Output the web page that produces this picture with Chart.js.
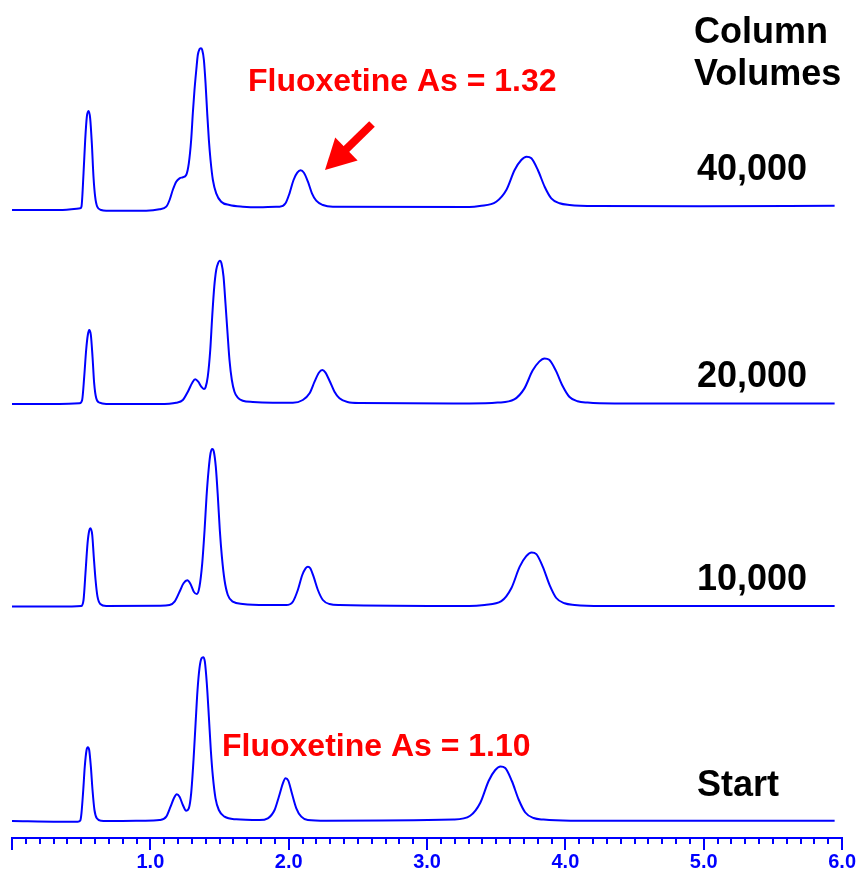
<!DOCTYPE html>
<html>
<head>
<meta charset="utf-8">
<script src="https://cdn.jsdelivr.net/npm/chart.js@4/dist/chart.umd.min.js"></script>
<style>
  body { margin: 0; background: #fff; }
</style>
</head>
<body>
<canvas id="chromChart" width="856" height="874"></canvas>
<script>
// retention time (x) and detector signal (y) for each run
const time40000 = [0, 0.343, 0.493, 0.502, 0.517, 0.529, 0.541, 0.553, 0.565, 0.577, 0.589, 0.601, 0.616, 0.645, 0.681, 0.826, 0.970, 1.066, 1.115, 1.139, 1.162, 1.187, 1.211, 1.235, 1.259, 1.278, 1.295, 1.307, 1.319, 1.332, 1.343, 1.355, 1.365, 1.375, 1.387, 1.399, 1.411, 1.423, 1.435, 1.452, 1.476, 1.512, 1.572, 1.668, 1.789, 1.910, 1.934, 1.977, 2.006, 2.035, 2.062, 2.086, 2.110, 2.139, 2.168, 2.199, 2.247, 2.319, 3.306, 3.380, 3.500, 3.573, 3.633, 3.681, 3.719, 3.754, 3.801, 3.850, 3.898, 3.958, 4.030, 4.223, 4.970, 5.946];
const signal40000 = [0, 0, 1.7, 3.3, 36.7, 70, 93.3, 99, 91.7, 66.7, 33.3, 13.3, 3.3, 0, -0.7, -0.7, -0.7, 0.7, 3.3, 10, 20, 28.3, 31.7, 32.7, 35, 46.7, 70, 96.7, 120, 140, 155, 160.7, 161.7, 160, 150, 126.7, 96.7, 70, 50, 30, 16.7, 8.3, 5, 3.3, 2.7, 3.3, 3.3, 6.7, 16.7, 30, 37.3, 39.7, 37.3, 28.3, 16.7, 9.3, 5, 3.3, 3, 4, 8.3, 20, 40, 50, 53.3, 51.7, 40, 23.3, 11.7, 6.7, 5, 4, 3.8, 4.3];

const time20000 = [0, 0.343, 0.488, 0.507, 0.522, 0.536, 0.548, 0.558, 0.570, 0.582, 0.594, 0.609, 0.633, 0.681, 1.066, 1.187, 1.235, 1.271, 1.303, 1.324, 1.346, 1.368, 1.387, 1.399, 1.415, 1.433, 1.447, 1.462, 1.476, 1.491, 1.502, 1.514, 1.529, 1.543, 1.558, 1.572, 1.589, 1.608, 1.632, 1.668, 1.741, 1.885, 2.030, 2.102, 2.151, 2.187, 2.218, 2.243, 2.266, 2.295, 2.331, 2.367, 2.425, 2.512, 3.306, 3.510, 3.630, 3.703, 3.763, 3.811, 3.849, 3.883, 3.931, 3.980, 4.028, 4.088, 4.160, 4.355, 5.946];
const signal20000 = [0, 0, 0.7, 4, 27.3, 54, 69, 74, 69, 47.3, 20.7, 5.7, 1.3, 0, 0, 1.3, 4, 12.3, 21.3, 24.7, 22.3, 17.3, 15, 16.7, 27.3, 54, 87.3, 117.3, 134, 141.3, 143.3, 140.7, 127.3, 100.7, 70.7, 44, 24, 12.3, 6.3, 3.3, 2, 1.3, 1.3, 4, 10.7, 22.3, 31.3, 34, 31.3, 23.3, 12.3, 5.7, 2, 1, 0.5, 1.4, 4.6, 15.4, 33.4, 42.4, 45.5, 44.2, 33.4, 18, 7.3, 2.8, 1.4, 0.5, 0.5];

const time10000 = [0, 0.343, 0.500, 0.517, 0.531, 0.546, 0.558, 0.567, 0.580, 0.591, 0.604, 0.618, 0.638, 0.681, 1.066, 1.139, 1.175, 1.211, 1.240, 1.267, 1.290, 1.314, 1.336, 1.355, 1.375, 1.392, 1.406, 1.421, 1.435, 1.447, 1.459, 1.473, 1.488, 1.502, 1.517, 1.536, 1.560, 1.596, 1.668, 1.838, 1.982, 2.030, 2.066, 2.098, 2.122, 2.139, 2.156, 2.180, 2.211, 2.247, 2.295, 2.367, 3.306, 3.416, 3.537, 3.609, 3.669, 3.717, 3.756, 3.790, 3.837, 3.886, 3.934, 3.994, 4.066, 4.262, 5.946];
const signal10000 = [0, 0, 0.5, 6.5, 33.2, 63.2, 75.8, 78.2, 71.5, 49.8, 26.5, 9.8, 2.5, 0.5, 0.8, 1.5, 4.8, 14.8, 23.2, 26.2, 22.5, 14.8, 12.5, 19.8, 43.2, 76.5, 109.8, 136.5, 153.2, 157.5, 154.8, 139.8, 109.8, 76.5, 49.8, 26.5, 11.5, 4.8, 2.5, 1.5, 1.5, 4.8, 16.5, 31.5, 38.2, 39.8, 38.2, 29.8, 16.5, 6.5, 2.5, 1.5, 0.5, 1.6, 5.3, 18.2, 39.6, 50.3, 54, 52.4, 39.6, 21.4, 8.5, 3.2, 1.6, 0.5, 0.5];

const timeStart = [0, 0.343, 0.476, 0.493, 0.502, 0.515, 0.526, 0.539, 0.548, 0.558, 0.570, 0.582, 0.596, 0.613, 0.645, 0.729, 0.946, 1.066, 1.115, 1.146, 1.170, 1.191, 1.211, 1.235, 1.259, 1.278, 1.295, 1.312, 1.327, 1.341, 1.355, 1.370, 1.382, 1.394, 1.408, 1.423, 1.437, 1.452, 1.471, 1.495, 1.536, 1.621, 1.789, 1.849, 1.898, 1.929, 1.958, 1.977, 1.997, 2.023, 2.055, 2.091, 2.138, 2.271, 3.192, 3.312, 3.385, 3.445, 3.493, 3.531, 3.565, 3.613, 3.662, 3.710, 3.770, 3.842, 4.037, 5.946];
const signalStart = [0, -0.7, -0.7, 0.3, 7.7, 31, 54.3, 71, 73.7, 71, 54.3, 31, 11, 2.7, 0.3, 0, 0.3, 1, 4.3, 14.3, 22.7, 26.7, 24.3, 16, 10.3, 12.7, 27.7, 61, 97.7, 131, 152.7, 162.7, 163.7, 159.3, 137.7, 104.3, 71, 44.3, 22.7, 11, 4.3, 1.7, 1, 2.7, 11, 24.3, 37.7, 42.7, 40.3, 27.7, 12.7, 4.3, 1, 0.3, 1.4, 5.2, 18.2, 40, 51, 54.5, 53, 40, 21.5, 8.5, 3, 1.4, 0.3, 0.3];

const runNames = ['Start', '10,000', '20,000', '40,000'];
const runTimes = [timeStart, time10000, time20000, time40000];
const runSignals = [signalStart, signal10000, signal20000, signal40000];
// each run is lifted by this much so the traces stack
const runOffsets = [17, 231.5, 434, 628];

const xTickLabels = ['1.0', '2.0', '3.0', '4.0', '5.0', '6.0'];

const BLUE = '#0000ff';
const FONT = 'Arial, "Liberation Sans", sans-serif';

const datasets = runNames.map((name, i) => ({
    label: name,
    data: runTimes[i].map((t, j) => ({ x: t, y: runSignals[i][j] + runOffsets[i] })),
    borderColor: BLUE,
    borderWidth: 2,
    pointRadius: 0,
    fill: false,
    cubicInterpolationMode: 'monotone'
}));

// tick marks, run labels, the asymmetry notes and the arrow
const overlay = {
    id: 'overlay',
    afterDraw(chart) {
        const ctx = chart.ctx;
        const xs = chart.scales.x;
        const bottom = chart.chartArea.bottom;
        ctx.save();

        // 0.1 min ticks, longer on whole minutes
        ctx.strokeStyle = BLUE;
        ctx.lineWidth = 2;
        for (let k = 0; k <= 60; k++) {
            const px = Math.round(xs.getPixelForValue(k / 10));
            const len = k % 10 === 0 ? 12 : 6;
            ctx.beginPath();
            ctx.moveTo(px, bottom);
            ctx.lineTo(px, bottom + len);
            ctx.stroke();
        }

        ctx.fillStyle = '#000';
        ctx.textAlign = 'left';
        ctx.textBaseline = 'alphabetic';
        ctx.font = 'bold 36px ' + FONT;
        ctx.fillText('Column', 694, 43);
        ctx.fillText('Volumes', 694, 85);
        const labelY = [796, 590, 387, 180];
        runNames.forEach((n, i) => ctx.fillText(n, 697, labelY[i]));

        ctx.fillStyle = '#ff0000';
        ctx.font = 'bold 32px ' + FONT;
        ctx.fillText('Fluoxetine As = 1.32', 248, 91);
        ctx.fillText('Fluoxetine As = 1.10', 222, 756);

        // arrow pointing at the fluoxetine peak
        const x0 = 372, y0 = 124, x1 = 325, y1 = 170;
        const ang = Math.atan2(y1 - y0, x1 - x0);
        const headLen = 30, headHalf = 16;
        const bx = x1 - headLen * Math.cos(ang), by = y1 - headLen * Math.sin(ang);
        ctx.strokeStyle = '#ff0000';
        ctx.lineWidth = 8;
        ctx.beginPath();
        ctx.moveTo(x0, y0);
        ctx.lineTo(bx + 2 * Math.cos(ang), by + 2 * Math.sin(ang));
        ctx.stroke();
        ctx.beginPath();
        ctx.moveTo(x1, y1);
        ctx.lineTo(bx + headHalf * Math.sin(ang), by - headHalf * Math.cos(ang));
        ctx.lineTo(bx - headHalf * Math.sin(ang), by + headHalf * Math.cos(ang));
        ctx.closePath();
        ctx.fill();

        ctx.restore();
    }
};

new Chart(document.getElementById('chromChart'), {
    type: 'line',
    data: { datasets: datasets },
    options: {
        responsive: false,
        animation: false,
        layout: { padding: { left: 12, right: 13, top: 0, bottom: 0 } },
        plugins: { legend: { display: false }, tooltip: { enabled: false } },
        scales: {
            x: {
                type: 'linear',
                min: 0,
                max: 6,
                border: { display: true, color: BLUE, width: 2 },
                grid: { drawOnChartArea: false, drawTicks: true, tickLength: 12, color: 'rgba(0,0,0,0)' },
                ticks: {
                    stepSize: 1,
                    autoSkip: false,
                    maxRotation: 0,
                    minRotation: 0,
                    padding: 0,
                    color: BLUE,
                    font: { family: FONT, size: 20, weight: 'bold' },
                    callback: function (value) {
                        const k = Math.round(value);
                        return k >= 1 ? xTickLabels[k - 1] : '';
                    }
                }
            },
            y: { display: false, min: 0, max: 838 }
        }
    },
    plugins: [overlay]
});
</script>
</body>
</html>
